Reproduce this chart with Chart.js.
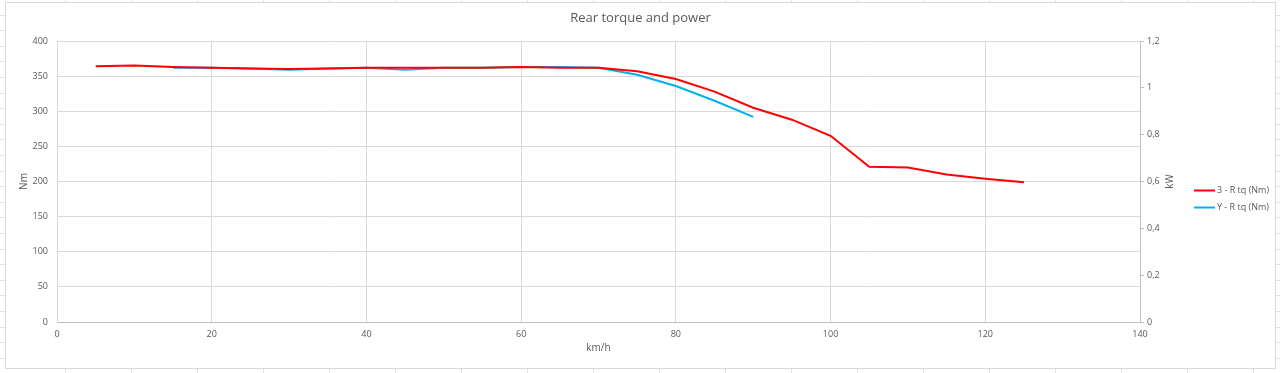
<!DOCTYPE html>
<html>
<head>
<meta charset="utf-8">
<script src="https://cdn.jsdelivr.net/npm/chart.js@4"></script>
<style>
  html, body { margin: 0; padding: 0; }
  body {
    width: 1280px; height: 373px; overflow: hidden; position: relative;
    background-color: #fff;
    background-image:
      repeating-linear-gradient(to bottom, transparent 0, transparent 14.6px, #e3e3e3 14.6px, #e3e3e3 15.6px),
      repeating-linear-gradient(to right, transparent 0, transparent 65px, #e3e3e3 65px, #e3e3e3 66px);
  }
  #box {
    position: absolute; left: 5px; top: 2px;
    width: 1269px; height: 365px;
    background: #fff; border: 1px solid #d9d9d9;
  }
</style>
</head>
<body>
<div id="box"><canvas id="myPlot"></canvas></div>
<script>
// km/h
const speed3 = [5, 10, 15, 20, 25, 30, 35, 40, 45, 50, 55, 60, 65, 70, 75, 80, 85, 90, 95, 100, 105, 110, 115, 120, 125];
const torque3 = [364, 365, 363, 362, 361, 360, 361, 362, 362, 362, 362, 363, 362, 362, 357, 346, 328, 305, 288, 265, 221, 220, 210, 204, 199];

const speedY = [15, 20, 25, 30, 35, 40, 45, 50, 55, 60, 65, 70, 75, 80, 85, 90];
const torqueY = [362, 362, 361, 359, 361, 362, 359, 362, 362, 363, 363, 362, 352, 336, 315, 292];

const xTicks = { min: 0, max: 140, step: 20 };
const nmTicks = { min: 0, max: 400, step: 50 };
const kwTicks = { min: 0, max: 1.2, step: 0.2 };

const grey = '#595959';
const fontFamily = '"Open Sans", "Noto Sans", sans-serif';

function toPoints(xs, ys) {
    return xs.map((x, i) => ({ x: x, y: ys[i] }));
}

// legend + right axis title, drawn the way the spreadsheet does it
const extras = {
    id: 'extras',
    afterDraw(chart) {
        const ctx = chart.ctx;
        ctx.save();
        ctx.font = '9px ' + fontFamily;
        ctx.fillStyle = grey;
        ctx.textBaseline = 'middle';
        chart.data.datasets.forEach((ds, i) => {
            const y = 187.5 + i * 17;
            ctx.strokeStyle = ds.borderColor;
            ctx.lineWidth = 2;
            ctx.beginPath();
            ctx.moveTo(1188, y);
            ctx.lineTo(1209, y);
            ctx.stroke();
            ctx.fillText(ds.label, 1211, y);
        });
        const s = chart.scales.y2;
        ctx.font = '10px ' + fontFamily;
        ctx.translate(1164, (s.top + s.bottom) / 2);
        ctx.rotate(-Math.PI / 2);
        ctx.textAlign = 'center';
        ctx.fillText('kW', 0, 0);
        ctx.restore();
    }
};

new Chart(document.getElementById("myPlot"), {
    type: "line",
    data: {
        datasets: [{
            label: '3 - R tq (Nm)',
            data: toPoints(speed3, torque3),
            borderColor: '#ff0000',
            backgroundColor: '#ff0000',
            borderWidth: 2,
            radius: 0,
            tension: 0,
            yAxisID: 'y'
        },
        {
            label: 'Y - R tq (Nm)',
            data: toPoints(speedY, torqueY),
            borderColor: '#00b0f0',
            backgroundColor: '#00b0f0',
            borderWidth: 2,
            radius: 0,
            tension: 0,
            yAxisID: 'y'
        }]
    },
    options: {
        animation: false,
        maintainAspectRatio: false,
        responsive: true,
        layout: { padding: 0 },
        plugins: {
            legend: { display: false },
            tooltip: { enabled: false },
            title: {
                display: true,
                text: 'Rear torque and power',
                color: grey,
                font: { family: fontFamily, size: 13, weight: 'normal' },
                padding: { top: 7, bottom: 15.4 }
            }
        },
        scales: {
            x: {
                type: 'linear',
                min: xTicks.min,
                max: xTicks.max,
                afterFit: s => { s.height = 46; },
                title: {
                    text: 'km/h',
                    display: true,
                    color: grey,
                    font: { family: fontFamily, size: 10 },
                    padding: { top: 0, bottom: 14 }
                },
                ticks: {
                    stepSize: xTicks.step,
                    color: grey,
                    padding: 7,
                    maxRotation: 0,
                    font: { family: fontFamily, size: 9 }
                },
                grid: { color: '#d9d9d9', drawTicks: false },
                border: { color: '#bfbfbf' }
            },
            y: {
                position: 'left',
                min: nmTicks.min,
                max: nmTicks.max,
                afterFit: s => { s.width = 51; },
                title: {
                    text: 'Nm',
                    display: true,
                    color: grey,
                    font: { family: fontFamily, size: 10 },
                    padding: { top: 12, bottom: 0 }
                },
                ticks: {
                    stepSize: nmTicks.step,
                    color: grey,
                    padding: 9,
                    font: { family: fontFamily, size: 9 }
                },
                grid: { color: '#d9d9d9', drawTicks: false },
                border: { color: '#d9d9d9' }
            },
            y2: {
                position: 'right',
                display: true,
                min: kwTicks.min,
                max: kwTicks.max,
                afterFit: s => { s.width = 135; },
                ticks: {
                    stepSize: kwTicks.step,
                    color: grey,
                    padding: 3,
                    font: { family: fontFamily, size: 9 },
                    callback: v => String(Math.round(v * 10) / 10).replace('.', ',')
                },
                grid: { drawOnChartArea: false, drawTicks: true, tickLength: 4, color: '#bfbfbf' },
                border: { color: '#bfbfbf' }
            }
        }
    },
    plugins: [extras]
});
</script>
</body>
</html>
